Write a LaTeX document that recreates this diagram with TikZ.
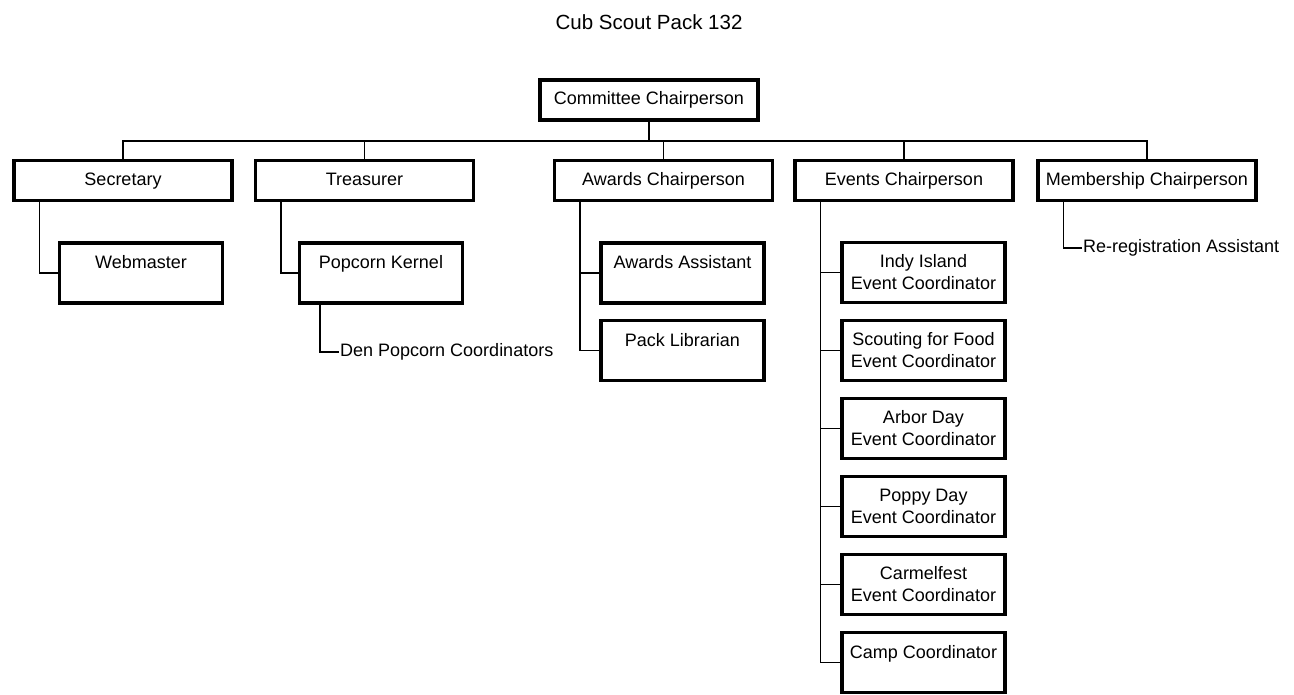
\documentclass[tikz,border=0pt]{standalone}
\usepackage{fontspec}
\setmainfont{Liberation Sans}
\usetikzlibrary{positioning}

\tikzset{
	office/.style={draw, line width=3.5pt, minimum width=218pt, minimum height=40pt,
		inner sep=0pt, text height=13pt, text depth=4pt, font=\fontsize{18}{22}\selectfont},
	helper/.style={draw, line width=3.5pt, minimum width=163pt, minimum height=60pt,
		inner sep=0pt, align=center, font=\fontsize{18}{22}\selectfont},
	link/.style={line width=1.5pt},
	tag/.style={anchor=west, inner sep=1pt, font=\fontsize{18}{22}\selectfont}
}

\begin{document}
\begin{tikzpicture}[x=1pt, y=-1pt]
			\def\W{1294};
			\def\H{694};
			\def\rowA{180.5};
			\def\drop{27pt};

			\useasboundingbox (0,0) rectangle (\W,\H);

			\node (title) at (649,22) {\fontsize{20.5}{24}\selectfont Cub Scout Pack 132};

			% top of the pack
			\node[office] (chair) at (649,100) {Committee Chairperson};
			\coordinate (bus) at (649,141);
			\draw[link] (chair.south) -- (bus);

			\begin{scope}
				\foreach \name/\x/\txt in {sec/123/Secretary, treas/364.5/Treasurer,
					awards/663.5/Awards Chairperson, events/904/Events Chairperson,
					member/1147/Membership Chairperson}
				{
					\node[office] (\name) at (\x,\rowA) {\txt};
					\draw[link] (bus) -| (\name.north);
				}
			\end{scope}

			% helpers under the officers
			\begin{scope}
				\node[helper] (web) at (141,273) {Webmaster\\\mbox{}};
				\node[helper] (pop) at (381,273) {Popcorn Kernel\\\mbox{}};
				\node[helper] (asst) at (682.5,273) {Awards Assistant\\\mbox{}};
				\node[helper] (lib) at (682.5,350.5) {Pack Librarian\\\mbox{}};

				\draw[link] ([xshift=\drop]sec.south west) |- (web.west);
				\draw[link] ([xshift=\drop]treas.south west) |- (pop.west);
				\draw[link] ([xshift=\drop]awards.south west) |- (asst.west);
				\draw[link] ([xshift=\drop]awards.south west) |- (lib.west);
			\end{scope}

			\begin{scope}
				\foreach \kid/\y/\txt in {indy/272.5/{Indy Island\\Event Coordinator},
					food/350.5/{Scouting for Food\\Event Coordinator},
					arbor/428.5/{Arbor Day\\Event Coordinator},
					poppy/506.5/{Poppy Day\\Event Coordinator},
					carmel/584.5/{Carmelfest\\Event Coordinator},
					camp/662.5/{Camp Coordinator\\\mbox{}}}
				{
					\node[helper] (\kid) at (923.5,\y) {\txt};
					\draw[link] ([xshift=\drop]events.south west) |- (\kid.west);
				}
			\end{scope}

			% plain text helpers
			\node[tag] (den) at (339,352) {Den Popcorn Coordinators};
			\draw[link] ([xshift=22pt]pop.south west) |- (den.west);

			\node[tag] (rereg) at (1082,248) {Re-registration Assistant};
			\draw[link] ([xshift=\drop]member.south west) |- (rereg.west);
		\end{tikzpicture}
\end{document}
